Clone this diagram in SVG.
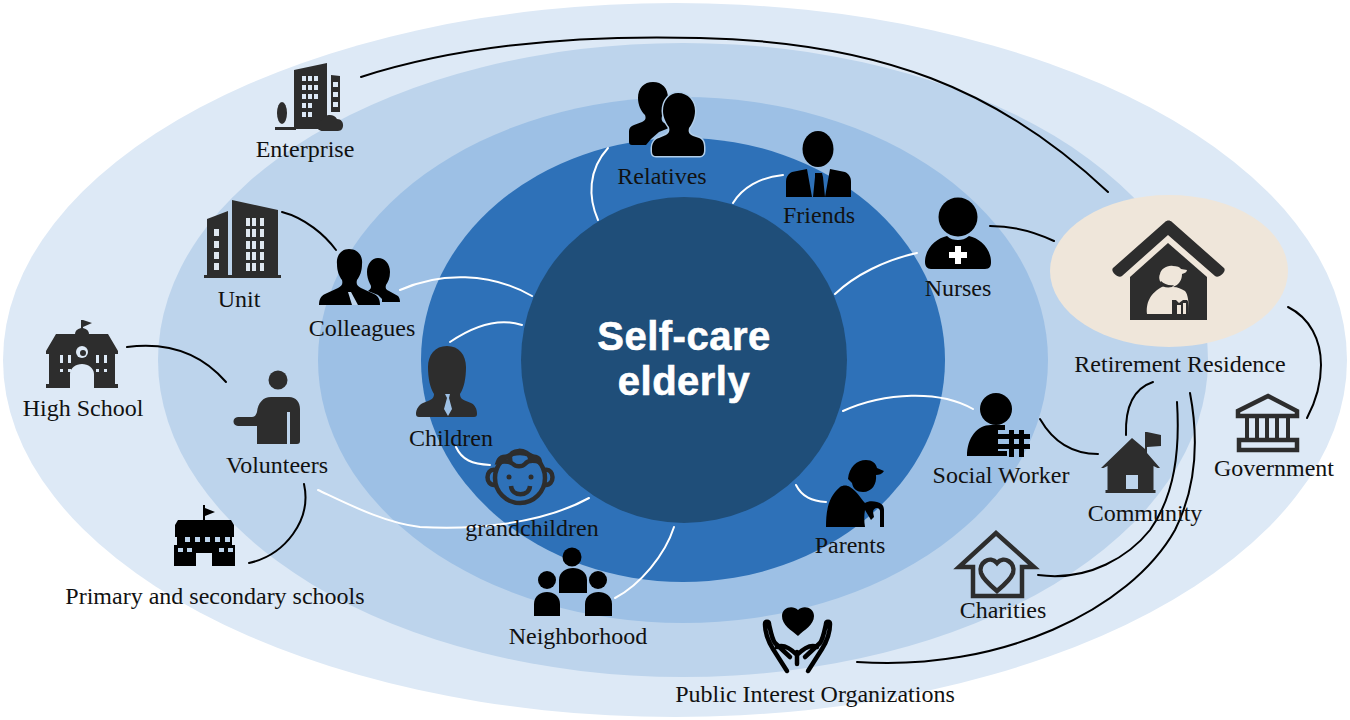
<svg xmlns="http://www.w3.org/2000/svg" width="1350" height="720" viewBox="0 0 1350 720">
<style>
.t{font-family:"Liberation Serif","Times New Roman",serif;font-size:24px;fill:#111;text-anchor:middle}
.c{font-family:"Liberation Sans",Arial,sans-serif;font-size:40px;font-weight:700;letter-spacing:.5px;fill:#fff;stroke:#fff;stroke-width:.6;text-anchor:middle}
.d{fill:#2d2d2d}.k{fill:#000}
.b{fill:none;stroke:#000;stroke-width:2;stroke-linecap:round}
.w{fill:none;stroke:#fff;stroke-width:2;stroke-linecap:round}
.o{fill:none;stroke:#2d2d2d;stroke-width:4.5}
.h{fill:none;stroke:#000;stroke-width:4.5;stroke-linecap:round;stroke-linejoin:round}
</style>
<rect width="1350" height="720" fill="#fff"/>
<g id="rings">
<ellipse cx="675" cy="360" rx="672" ry="357" fill="#dde9f6"/>
<ellipse cx="683" cy="360" rx="525" ry="317" fill="#bdd4ec"/>
<ellipse cx="683" cy="360" rx="365" ry="263" fill="#9dc0e5"/>
<ellipse cx="683" cy="360" rx="262" ry="222" fill="#2e71b8"/>
<circle cx="684" cy="360" r="163" fill="#1f4e79"/>
<ellipse cx="1169" cy="271" rx="119" ry="76" fill="#efe6da"/>
</g>
<g id="connectors">
<path class="b" d="M361 77C470 42 590 35 700 38C880 42 1000 90 1108 192"/>
<path class="b" d="M282 212C305 218 325 235 336 250"/>
<path class="b" d="M127 347C165 342 200 352 226 382"/>
<path class="b" d="M304 484C312 520 285 555 249 563"/>
<path class="b" d="M990 226C1015 226 1035 232 1054 241"/>
<path class="b" d="M1040 419C1055 445 1075 454 1098 454"/>
<path class="b" d="M1126 435C1125 405 1135 388 1153 382"/>
<path class="b" d="M1288 307C1310 318 1321 340 1321 365C1321 385 1315 403 1307 418"/>
<path class="b" d="M1038 575C1090 582 1130 555 1150 530C1175 495 1180 450 1177 402"/>
<path class="b" d="M857 662C1000 672 1130 610 1175 530C1200 480 1197 430 1190 393"/>
<path class="w" d="M598 220C588 197 588 170 608 148"/>
<path class="w" d="M733 203C742 188 760 177 783 175"/>
<path class="w" d="M835 294C855 275 885 260 917 253"/>
<path class="w" d="M843 411C885 392 940 390 973 409"/>
<path class="w" d="M796 485C802 497 812 501 826 502"/>
<path class="w" d="M674 527C665 555 640 585 615 598"/>
<path class="w" d="M532 296C490 272 440 272 400 290"/>
<path class="w" d="M522 325C500 318 475 325 450 342"/>
<path class="w" d="M456 447C462 460 472 464 490 465"/>
<path class="w" d="M589 498C540 525 470 530 420 527C385 523 350 505 318 490"/>
</g>
<g id="center"><text class="c" x="684" y="350">Self-care</text><text class="c" x="684" y="395">elderly</text></g>

<g id="enterprise">
<path class="d" d="M294 70L327 63V129H294Z"/><path class="d" d="M331 75L340 76V112H331Z"/><path class="d" d="M275 127H296V130H275Z"/><ellipse class="d" cx="282" cy="113" rx="5" ry="11"/><path class="d" d="M323 131c-8 0-8-10-1-11c2-6 12-7 15-1c8 0 8 12 1 12z"/>
<path fill="#dde9f6" d="M302 76h4v5h-4zM308 76h4v5h-4zM314 76h4v5h-4zM302 85h4v5h-4zM308 85h4v5h-4zM314 85h4v5h-4zM302 94h4v5h-4zM308 94h4v5h-4zM314 94h4v5h-4zM302 103h4v5h-4zM308 103h4v5h-4zM302 112h4v5h-4zM308 112h4v5h-4zM333 82h5v5h-5zM333 92h5v5h-5zM333 102h5v5h-5z"/>
<text class="t" x="305" y="157">Enterprise</text></g>

<g id="unit">
<path class="d" d="M207 219L228 211V277H207Z"/><path class="d" d="M232 200L278 210V277H232Z"/><rect class="d" x="204" y="275" width="77" height="3"/>
<path fill="#dfe7f0" d="M214 229h5v7h-5zM214 241h5v7h-5zM214 252h5v7h-5zM214 263h5v7h-5zM246 218h4v8h-4zM252 218h4v8h-4zM260 218h4v8h-4zM246 229h4v8h-4zM252 229h4v8h-4zM260 229h4v8h-4zM246 241h4v8h-4zM252 241h4v8h-4zM260 241h4v8h-4zM246 252h4v8h-4zM252 252h4v8h-4zM260 252h4v8h-4zM246 263h4v8h-4zM252 263h4v8h-4zM260 263h4v8h-4z"/>
<text class="t" x="239" y="307">Unit</text></g>

<g id="colleagues">
<path class="k" d="M378 258c7 0 12 6 12 14c0 6-2 10-4 13c-1 3 0 5 3 6l9 5c1 1 2 3 2 6h-18v-3l-4-4l-10-4c3-2 4-4 2-7c-2-4-3-8-3-12c0-8 5-14 11-14z"/>
<path class="k" d="M349 249c9 0 14 7 13 15c0 7-2 12-5 16c-1 4 0 6 4 8l13 6c4 2 6 5 6 11h-61c0-6 2-9 6-11l13-6c4-2 5-4 4-8c-3-4-5-9-5-16c-1-8 4-15 12-15z"/>
<path fill="#bdd4ec" d="M348 292l3 0l7 13h-6z"/>
<text class="t" x="362" y="336">Colleagues</text></g>

<g id="high-school">
<path class="d" d="M81 320h2v8c4 1 6 3 6 6h19l10 17v3h-3v30h3v4h-24v-14c0-6-6-10-12-10s-12 4-12 10v14h-24v-4h3v-30h-3v-3l10-17h19c0-3 2-5 6-6z"/><path class="d" d="M83 320l9 3l-9 4z"/>
<circle cx="82" cy="352" r="6" fill="#dde9f6"/><circle cx="83" cy="353" r="3" fill="#2d2d2d"/>
<path fill="#dde9f6" d="M60 355h3v8h-3zM68 355h3v8h-3zM96 355h3v8h-3zM104 355h3v8h-3zM60 369h3v3h-3zM68 369h3v3h-3zM96 369h3v3h-3zM104 369h3v3h-3z"/>
<text class="t" x="83" y="416">High School</text></g>

<g id="volunteers">
<circle class="d" cx="278" cy="380" r="9.5"/>
<path class="d" d="M257 444V426H238c-6 0-6-9 0-9h14c3 0 4-2 5-5c1-9 6-15 14-15h18c7 0 11 5 11 12v32c0 2-1 3-3 3h-7v-32h-3v32z"/>
<text class="t" x="277" y="473">Volunteers</text></g>

<g id="schools">
<path class="k" d="M203 505h2v3l10 4l-10 4v4h26l3 5v12h-2v8h3v21h-23v-13h-16v13h-22v-21h3v-8h-2v-12l3-5h25z"/>
<path fill="#bdd4ec" d="M185 537h5v5h-5zM195 537h5v5h-5zM205 537h5v5h-5zM215 537h5v5h-5zM225 537h5v5h-5zM178 548h5v4h-5zM187 548h5v4h-5zM219 548h5v4h-5zM228 548h5v4h-5z"/>
<text class="t" x="215" y="604">Primary and secondary schools</text></g>

<g id="children">
<path class="d" d="M447 346c12 0 19 9 19 21c0 11-2 21-6 27c0 3 1 5 6 7l5 2c4 2 6 6 6 11c0 2-1 3-3 3h-55c-2 0-3-1-3-3c0-5 3-9 7-11l5-2c5-2 6-4 6-7c-4-6-6-16-6-27c0-12 7-21 19-21z"/>
<path fill="#9dc0e5" d="M445 394h5l-1 4l3 11l-4 7l-4-7l3-11z"/>
<text class="t" x="451" y="446">Children</text></g>

<g id="grandchildren">
<circle class="o" cx="520" cy="478" r="25"/>
<path class="o" d="M495 470c-10-2-10 16 0 15M545 470c10-2 10 16 0 15"/>
<path class="o" d="M498 462c2-6 8-6 12-4c-1-9 18-10 20 0c3-2 9-2 10 4c-7-2-12-2-15 2c-3 3-9 3-12 0c-3-3-9-3-15-2z"/>
<circle class="d" cx="509" cy="477" r="2.500"/><circle class="d" cx="531" cy="477" r="2.500"/>
<path class="o" d="M511 486c1 11 18 11 19 0" stroke-width="3.500"/>
<text class="t" x="532" y="536">grandchildren</text></g>

<g id="neighborhood">
<circle class="k" cx="572" cy="557" r="9.500"/><circle class="k" cx="547" cy="580" r="9"/><circle class="k" cx="598" cy="580" r="9"/>
<path class="k" d="M559 593v-13c0-16 28-16 28 0v13z"/>
<path class="k" d="M534 616v-12c0-16 26-16 26 0v12z"/>
<path class="k" d="M585 616v-12c0-16 27-16 27 0v12z"/>
<text class="t" x="578" y="644">Neighborhood</text></g>

<g id="relatives">
<path class="k" d="M653 82c9 0 15 6 15 16c0 7-3 14-6 18c-1 4 0 6 4 8l3 4l-10 4l-8 7l-5 6h-14c-2 0-3-1-3-3v-11c0-3 2-5 5-6l8-3c4-2 4-4 3-7c-4-4-7-10-7-17c0-10 6-16 15-16z"/>
<path class="k" stroke="#b0cde9" stroke-width="3" paint-order="stroke" d="M678 93c10 0 17 8 17 18c0 7-3 13-6 17c-1 4 0 6 4 8l6 2c3 1 5 4 5 9v4c0 3-2 5-4 5h-44c-3 0-4-2-4-5v-3c0-5 3-9 7-10l7-3c3-2 4-4 3-8c-3-4-6-10-6-16c0-11 7-18 15-18z"/>
<text class="t" x="662" y="184">Relatives</text></g>

<g id="friends">
<ellipse class="k" cx="818" cy="149" rx="15.500" ry="18"/>
<path class="k" d="M786 197v-15c0-5 2-8 6-10l15-3l5 28zM851 197v-15c0-5-2-8-6-10l-15-3l-5 28z"/>
<path class="k" d="M815 173h7l1 4l2 20h-12l2-20z"/>
<text class="t" x="819" y="223">Friends</text></g>

<g id="nurses">
<circle class="k" cx="958" cy="217" r="19.500"/>
<path class="k" d="M933 269H985c5 0 6-3 6-7c0-14-12-24-22-26c-4 3-7 4-11 4c-4 0-8-1-11-4c-10 2-22 12-22 26c0 4 2 7 6 7z"/>
<path fill="#fff" d="M955 246h6v6h6v6h-6v6h-6v-6h-6v-6h6z"/>
<text class="t" x="958" y="296">Nurses</text></g>

<g id="residence">
<path class="d" d="M1165 222c2-2 5-2 7 0l52 46c3 3-5 11-9 8l-47-41l-46 41c-4 3-12-5-9-8z"/>
<path class="d" d="M1168 243l39 34v43h-77v-43z"/>
<path fill="#efe6da" d="M1147 314c-1-10 2-21 17-28c-4-3-6-8-4-12c1-5 7-9 13-8c4 0 7 1 8 3l6 1c0 2-2 3-5 4c0 6-3 10-7 12l-2 1c5 0 8 2 12 4c3 3 4 12 4 23z"/>
<path class="d" d="M1172 314v-14h4l3 3l4-3h4c2 2 2 6 2 14h-3v-11h-3v11h-2v-9h-4v9z"/>
<path class="d" d="M1161 281c3 3 8 5 13 4l-2 2c-5 1-10 0-13-3z"/>
<text class="t" x="1180" y="372">Retirement Residence</text></g>

<g id="social-worker">
<circle class="k" cx="996" cy="409" r="16"/>
<path class="k" d="M967 456c0-18 10-31 24-31h14v5h-7v26z"/>
<path class="k" d="M998 434h32v5h-32zM998 444h32v5h-32zM1009 430h5v27h-5zM1019 430h5v27h-5zM998 451h9v5h-9z"/>
<text class="t" x="1001" y="483">Social Worker</text></g>

<g id="parents">
<path class="k" d="M848 479c1-12 9-19 18-19c6 0 10 3 11 8l7 3c-2 3-5 4-8 4c1 9-4 17-13 17c-6 0-10-3-11-9z"/>
<path class="k" d="M826 527c0-16 2-30 14-40c3-2 7-2 10 0c8 5 10 11 15 16c3-2 8-2 12-1c4 1 7 3 7 8v17h-4v-16c0-2-2-3-4-3c-2 1-3 2-3 4l1 5l-3 3l-6-10c-1 5-1 11 0 17z"/>
<text class="t" x="850" y="553">Parents</text></g>

<g id="community">
<path class="d" d="M1132 438l13 11v-17l2 0l14 3v11l-14 1v6l13 15h-2.500l-4-2v24h2v3h-50v-3h2v-24l-4 2h-2.500z"/>
<path d="M1126 475h12v14h-12z" fill="#bdd4ec"/>
<text class="t" x="1145" y="521">Community</text></g>

<g id="government">
<path class="o" d="M1268 396l29 15v5h-59v-5z"/>
<path class="d" d="M1245 416h4v24h-4zM1255 416h4v24h-4zM1265 416h4v24h-4zM1275 416h4v24h-4zM1286 416h4v24h-4z"/>
<rect class="o" x="1239" y="440" width="58" height="10"/>
<text class="t" x="1274" y="476">Government</text></g>

<g id="charities">
<path class="o" stroke-linejoin="miter" d="M973 567v29h49v-29h12l-38-34l-37 34z"/>
<path class="o" d="M997 563c-7-8-19 0-16 10c2 6 10 13 16 18c6-5 14-12 16-18c3-10-9-18-16-10z"/>
<text class="t" x="1003" y="618">Charities</text></g>

<g id="public-interest">
<path class="k" d="M798 610c5-5 16-3 16 6c0 9-10 14-16 20c-7-6-16-11-16-20c0-9 11-11 16-6z"/>
<path class="h" d="M787 671l-14-22c-5-8-8-17-8-25c0-3 4-3 4 0c2 9 3 15 6 19l15 14M808 671l14-22c5-8 8-17 8-25c0-3-4-3-4 0c-2 9-3 15-6 19l-15 14M797 664v-12M777 647c6-3 14 2 20 8c6-6 14-11 20-8"/>
<text class="t" x="815" y="702">Public Interest Organizations</text></g>
</svg>
